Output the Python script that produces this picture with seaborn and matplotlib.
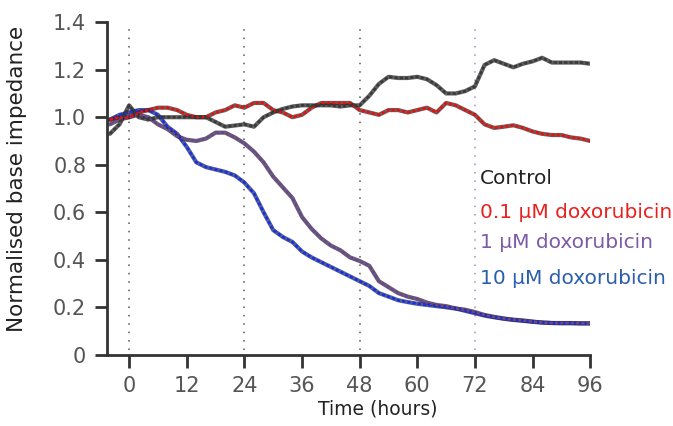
import matplotlib
matplotlib.use("Agg")
import matplotlib.pyplot as plt
import seaborn as sns
import pandas as pd
import numpy as np


# time points (hours), every 2 h
hours = list(range(-4, 97, 2))

control = [0.93, 0.97, 1.05, 1.00, 0.99, 1.00, 1.00, 1.00, 1.00, 1.00,
           1.00, 0.98, 0.96, 0.965, 0.97, 0.96, 1.00, 1.02, 1.035, 1.045,
           1.05, 1.05, 1.05, 1.05, 1.045, 1.05, 1.05, 1.09, 1.14, 1.17,
           1.165, 1.165, 1.17, 1.16, 1.135, 1.10, 1.10, 1.11, 1.13, 1.22,
           1.24, 1.225, 1.21, 1.225, 1.235, 1.25, 1.23, 1.23, 1.23, 1.23,
           1.225]

dox_01 = [0.99, 1.00, 1.00, 1.02, 1.03, 1.04, 1.04, 1.03, 1.01, 1.00,
          1.00, 1.02, 1.03, 1.05, 1.04, 1.06, 1.06, 1.03, 1.02, 1.00,
          1.01, 1.04, 1.06, 1.06, 1.06, 1.06, 1.03, 1.02, 1.01, 1.03,
          1.03, 1.02, 1.03, 1.04, 1.02, 1.06, 1.05, 1.03, 1.01, 0.97,
          0.955, 0.96, 0.966, 0.955, 0.94, 0.93, 0.925, 0.925, 0.915, 0.91,
          0.90]

dox_1 = [0.97, 0.99, 1.00, 1.01, 1.00, 0.97, 0.95, 0.92, 0.905, 0.90,
         0.91, 0.935, 0.935, 0.915, 0.89, 0.855, 0.81, 0.75, 0.705, 0.66,
         0.58, 0.53, 0.49, 0.46, 0.44, 0.41, 0.395, 0.375, 0.31, 0.285,
         0.26, 0.245, 0.235, 0.22, 0.21, 0.205, 0.195, 0.19, 0.18, 0.168,
         0.16, 0.153, 0.148, 0.145, 0.14, 0.136, 0.134, 0.134, 0.134, 0.133,
         0.133]

dox_10 = [0.99, 1.01, 1.02, 1.03, 1.03, 1.01, 0.96, 0.93, 0.875, 0.81,
          0.79, 0.78, 0.77, 0.755, 0.725, 0.68, 0.60, 0.525, 0.496, 0.475,
          0.435, 0.41, 0.39, 0.37, 0.35, 0.33, 0.31, 0.29, 0.26, 0.245,
          0.23, 0.222, 0.215, 0.21, 0.205, 0.20, 0.195, 0.185, 0.175, 0.165,
          0.158, 0.152, 0.147, 0.143, 0.139, 0.136, 0.134, 0.133, 0.133, 0.132,
          0.132]

series_names = ["10 μM doxorubicin", "1 μM doxorubicin", "0.1 μM doxorubicin", "Control"]
series_values = [dox_10, dox_1, dox_01, control]
line_colors = ["#1530e8", "#6a4890", "#e8100c", "#3a3a3a"]
edge_colors = ["#101a60", "#2a1838", "#401010", "#1a1a1a"]

legend_names = ["Control", "0.1 μM doxorubicin", "1 μM doxorubicin", "10 μM doxorubicin"]
legend_colors = ["#222222", "#e8231f", "#7d5aa6", "#2b5fad"]

x_ticks = [0, 12, 24, 36, 48, 60, 72, 84, 96]
y_ticks = [0, 0.2, 0.4, 0.6, 0.8, 1.0, 1.2, 1.4]
y_tick_labels = ["0", "0.2", "0.4", "0.6", "0.8", "1.0", "1.2", "1.4"]
dose_times = [0, 24, 48, 72]
dose_colors = ["#555555", "#555555", "#555555", "#a090c8"]

sns.set_theme(style="white")
plt.rcParams['font.family'] = ['DejaVu Sans']

fig = plt.figure(figsize=(6.73, 4.26), dpi=100)
ax = fig.add_axes([0.159, 0.167, 0.718, 0.781])

for t, c in zip(dose_times, dose_colors):
    ax.plot([t, t], [0.02, 1.37], color=c, lw=1.1, linestyle=(0, (1, 4.5)), zorder=1)

frames = []
for name, vals in zip(series_names, series_values):
    frames.append(pd.DataFrame({"Time": hours, "Impedance": vals, "Series": name}))
data = pd.concat(frames, ignore_index=True)

for name, color, edge in zip(series_names, line_colors, edge_colors):
    sub = data[data["Series"] == name]
    sns.lineplot(data=sub, x="Time", y="Impedance", ax=ax, color=edge, lw=3.0,
                 alpha=0.7, zorder=2, legend=False)
    sns.lineplot(data=sub, x="Time", y="Impedance", ax=ax, color=color, lw=1.9,
                 linestyle=(0, (1.2, 0.8)), zorder=3, legend=False)

ax.set_xlim(-4.6, 96)
ax.set_ylim(0, 1.4)
ax.set_xticks(x_ticks)
ax.set_yticks(y_ticks)
ax.set_yticklabels(y_tick_labels)

for side in ["top", "right"]:
    ax.spines[side].set_visible(False)
for side in ["left", "bottom"]:
    ax.spines[side].set_color("#333333")
    ax.spines[side].set_linewidth(2)

ax.tick_params(axis="both", direction="out", length=9, width=2, color="#333333",
               labelsize=15, labelcolor="#555555", pad=6, left=True, bottom=True)

ax.set_xlabel("Time (hours)", fontsize=13.5, color="#222222")
ax.set_ylabel("Normalised base impedance", fontsize=15.5, color="#222222")
ax.xaxis.set_label_coords(0.56, -0.135)
ax.yaxis.set_label_coords(-0.165, 0.53)

legend_y = [178, 212, 243, 278]
for name, color, yp in zip(legend_names, legend_colors, legend_y):
    fig.text(480 / 673, 1 - yp / 426, name, color=color, fontsize=14.5,
             ha="left", va="center")

fig.savefig("out.png", dpi=100)
